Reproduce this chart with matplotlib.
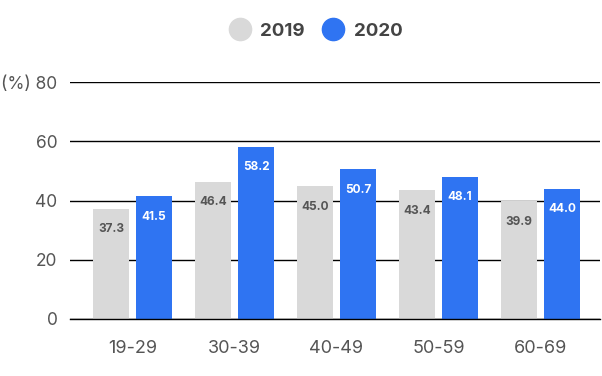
import numpy as np
import matplotlib
matplotlib.use("Agg")
import matplotlib.pyplot as plt
from matplotlib.lines import Line2D

plt.rcParams['font.family'] = ['Inter', 'DejaVu Sans']

categories = ['19-29', '30-39', '40-49', '50-59', '60-69']
values_2019 = [37.3, 46.4, 45.0, 43.4, 39.9]
values_2020 = [41.5, 58.2, 50.7, 48.1, 44.0]
series_names = ['2019', '2020']
yticks = [0, 20, 40, 60, 80]

gray = '#d9d9d9'
blue = '#2f74f2'
text_gray = '#555555'

fig = plt.figure(figsize=(6.02, 3.76), dpi=100)
ax = fig.add_axes([0.1163, 0.1516, 0.8804, 0.6303])

x = np.arange(len(categories))
w = 0.353
off = 0.211

b1 = ax.bar(x - off, values_2019, w, color=gray, zorder=3)
b2 = ax.bar(x + off, values_2020, w, color=blue, zorder=3)

for rect, v in zip(b1, values_2019):
    ax.annotate('%.1f' % v, (rect.get_x() + rect.get_width() / 2, v),
                xytext=(0, -15), textcoords='offset points', ha='center', va='center',
                fontsize=8.5, fontweight='bold', color=text_gray, zorder=4)
for rect, v in zip(b2, values_2020):
    ax.annotate('%.1f' % v, (rect.get_x() + rect.get_width() / 2, v),
                xytext=(0, -15), textcoords='offset points', ha='center', va='center',
                fontsize=8.5, fontweight='bold', color='white', zorder=4)

ax.set_xlim(-0.613, 4.583)
ax.set_ylim(0, 80)
ax.set_yticks(yticks)
ax.set_yticklabels(['0', '20', '40', '60', '(%) 80'])
ax.set_xticks(x)
ax.set_xticklabels(categories)
ax.tick_params(axis='both', length=0, labelsize=13, colors=text_gray)
ax.tick_params(axis='y', labelsize=12.5, pad=9)
ax.tick_params(axis='x', pad=15)

ax.grid(axis='y', color='black', linewidth=1, zorder=0)
for s in ['top', 'right', 'left']:
    ax.spines[s].set_visible(False)
ax.spines['bottom'].set_color('black')
ax.spines['bottom'].set_linewidth(1)
ax.spines['bottom'].set_zorder(5)

handles = [Line2D([], [], marker='o', linestyle='', markersize=16, color=gray),
           Line2D([], [], marker='o', linestyle='', markersize=16, color=blue)]
leg = fig.legend(handles, series_names, loc='center', bbox_to_anchor=(0.518, 0.917),
                 ncol=2, frameon=False, handletextpad=0.1, columnspacing=0.5,
                 prop={'size': 13.5, 'weight': 'bold'})
for t in leg.get_texts():
    t.set_color('#444444')

fig.savefig('out.png', dpi=100)
